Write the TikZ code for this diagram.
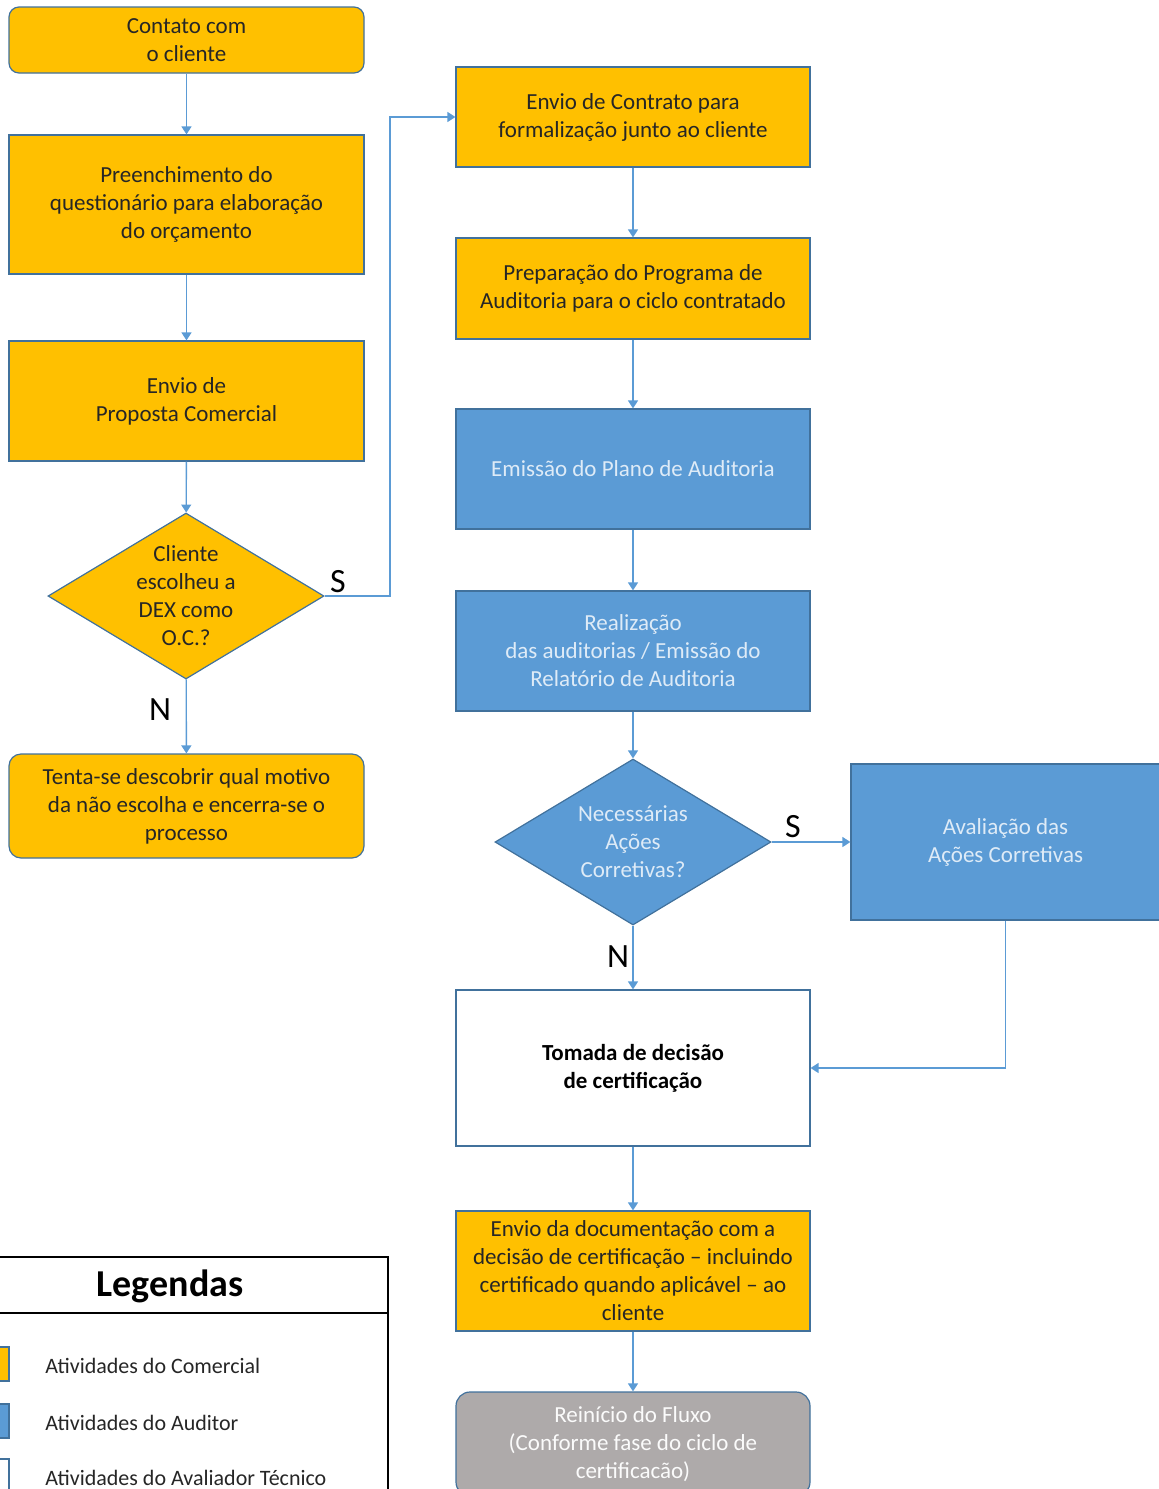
\documentclass[tikz,border=0pt]{standalone}
\usepackage{fontspec}
\setmainfont{Carlito}
\usetikzlibrary{shapes.geometric,arrows.meta}
\definecolor{comyel}{HTML}{FFC000}
\definecolor{audblue}{HTML}{5B9BD5}
\definecolor{edgeblue}{HTML}{41719C}
\definecolor{restgray}{HTML}{AEAAAA}
\definecolor{lighttxt}{HTML}{DEEBF7}
\tikzset{
  box/.style={rectangle,draw=edgeblue,line width=0.6pt,align=center,inner sep=0pt,
    font=\fontsize{11.5}{14}\selectfont},
  com/.style={box,fill=comyel,text=black!85},
  aud/.style={box,fill=audblue,text=lighttxt},
  tec/.style={box,fill=white,text=black,font=\fontsize{11.5}{14}\selectfont\bfseries},
  decision/.style={diamond,aspect=1.65,minimum width=138pt,minimum height=83pt},
  flow/.style={draw=audblue,line width=0.7pt,-{Triangle[length=4pt,width=5pt]}},
  yesno/.style={font=\fontsize{17}{17}\selectfont,text=black,inner sep=0pt},
  legtxt/.style={anchor=west,inner sep=0pt,text=black!85,font=\fontsize{11}{13}\selectfont}
}
\begin{document}
\begin{tikzpicture}[x=0.5pt,y=-0.5pt]
\useasboundingbox (0,0) rectangle (1158,1489);
% left column
\node[com,rounded corners=5pt,minimum width=177.5pt,minimum height=33pt] (contato) at (186.5,40) {Contato com\\o cliente};
\node[com,minimum width=177.5pt,minimum height=69.5pt] (preench) at (186.5,204.5) {Preenchimento do\\questionário para elaboração\\do orçamento};
\node[com,minimum width=177.5pt,minimum height=60pt] (proposta) at (186.5,401) {Envio de\\Proposta Comercial};
\node[com,decision] (dex) at (186,596) {Cliente\\escolheu a\\DEX como\\O.C.?};
\node[com,rounded corners=6pt,minimum width=177.5pt,minimum height=52pt] (tenta) at (186.5,806) {Tenta-se descobrir qual motivo\\da não escolha e encerra-se o\\processo};
% right column
\node[com,minimum width=177pt,minimum height=50pt] (contrato) at (633,117) {Envio de Contrato para\\formalização junto ao cliente};
\node[com,minimum width=177pt,minimum height=50.5pt] (programa) at (633,288.5) {Preparação do Programa de\\Auditoria para o ciclo contratado};
\node[aud,minimum width=177pt,minimum height=60pt] (plano) at (633,469) {Emissão do Plano de Auditoria};
\node[aud,minimum width=177pt,minimum height=60pt] (realiz) at (633,651) {Realização\\das auditorias / Emissão do\\Relatório de Auditoria};
\node[aud,decision] (nec) at (633,842) {Necessárias\\Ações\\Corretivas?};
\node[aud,minimum width=154.5pt,minimum height=78pt] (aval) at (1005.5,842) {Avaliação das\\Ações Corretivas};
\node[tec,minimum width=177pt,minimum height=78pt] (tomada) at (633,1068) {Tomada de decisão\\de certificação};
\node[com,minimum width=177pt,minimum height=60pt] (docum) at (633,1271) {Envio da documentação com a\\decisão de certificação – incluindo\\certificado quando aplicável – ao\\cliente};
\node[box,fill=restgray,text=white!95!restgray,rounded corners=7pt,minimum width=177pt,minimum height=52pt] (reinicio) at (633,1444) {Reinício do Fluxo\\(Conforme fase do ciclo de\\certificacão)};
% connectors
\foreach \s/\t in {contato/preench, preench/proposta, proposta/dex, dex/tenta, contrato/programa, programa/plano, plano/realiz, realiz/nec, nec/tomada, tomada/docum, docum/reinicio}
  \draw[flow] (\s) -- (\t);
\coordinate (upS) at (390,117);
\draw[flow] (dex.east) -| (upS) -- (contrato.west);
\draw[flow] (nec.east) -- (aval.west);
\draw[flow] (aval.south) |- (tomada.east);
\node[yesno] (s1) at (338,582) {S};
\node[yesno] (n1) at (160,710) {N};
\node[yesno] (s2) at (793,827) {S};
\node[yesno] (n2) at (618,957) {N};
% legend
\draw[line width=1pt] (-5,1257) rectangle (388,1500);
\draw[line width=1.2pt] (-5,1313) -- (388,1313);
\node[inner sep=0pt,font=\fontsize{19}{22}\selectfont\bfseries] (legtitle) at (170,1286) {Legendas};
\foreach \y/\n/\c/\t in {1364/legcom/comyel/Comercial, 1421/legaud/audblue/Auditor, 1476/legtec/white/Avaliador Técnico}{
  \node[draw=edgeblue,line width=0.6pt,fill=\c,minimum width=7pt,minimum height=17pt,inner sep=0pt] (\n) at (2,\y) {};
  \node[legtxt] (\n txt) at (45,\y+2) {Atividades do \t};
}
\end{tikzpicture}
\end{document}
